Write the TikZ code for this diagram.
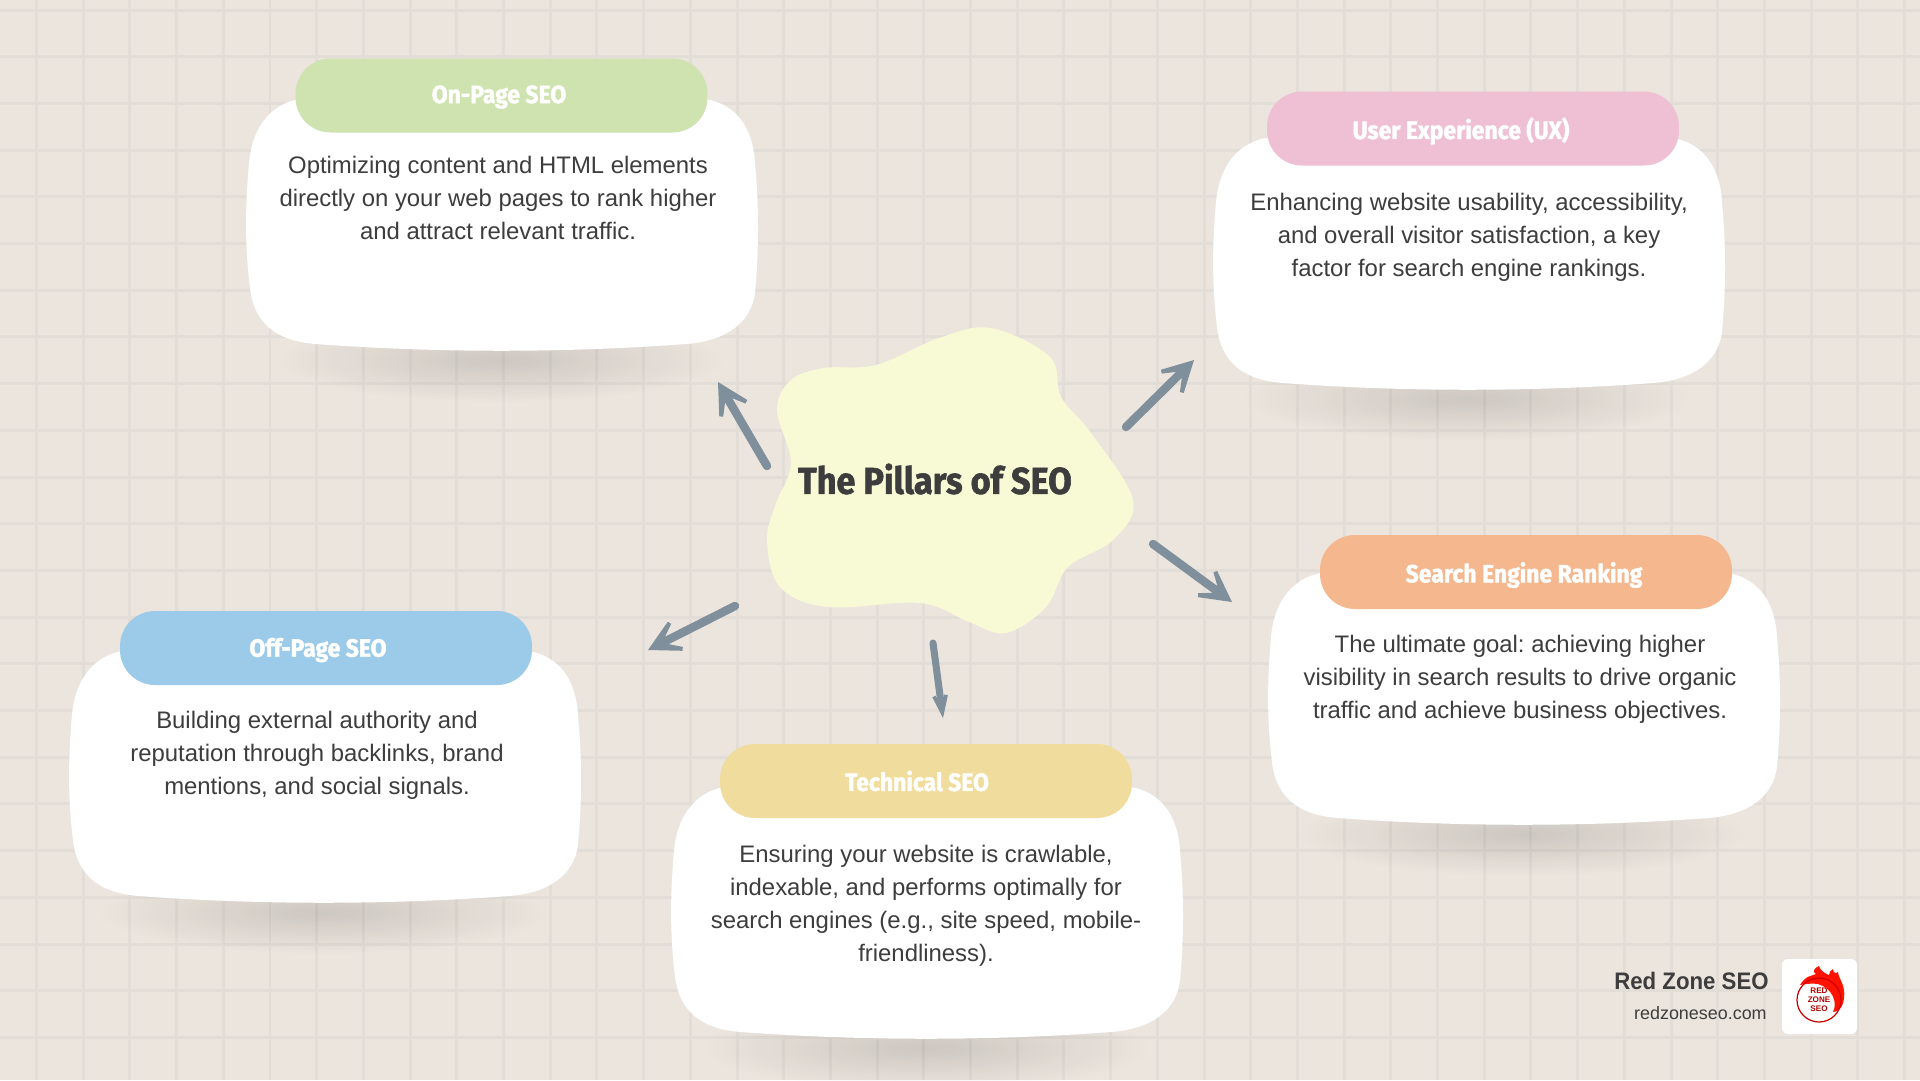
\documentclass[tikz,border=0pt]{standalone}
\usepackage{fontspec}
\setmainfont{Liberation Sans}
\newfontfamily\handfont[FakeStretch=0.92,FakeBold=1.6]{Fira Sans}
\newfontfamily\brandfont[FakeStretch=0.93]{Liberation Sans}
\usetikzlibrary{arrows.meta,fadings}
\definecolor{paper}{HTML}{ECE5DE}
\definecolor{gridline}{HTML}{E3DDD7}
\definecolor{blobfill}{HTML}{F8F9D5}
\definecolor{inktext}{HTML}{3D3D3D}
\definecolor{arrowgrey}{HTML}{7F8F9C}
\definecolor{pillgreen}{HTML}{CFE3B0}
\definecolor{pillpink}{HTML}{EFC0D4}
\definecolor{pillorange}{HTML}{F5B78E}
\definecolor{pillblue}{HTML}{9CCBEA}
\definecolor{pillyellow}{HTML}{F0DC9C}
\tikzfading[name=softfade, inner color=transparent!87, outer color=transparent!100]
\tikzset{
  pill/.style={minimum width=8.24cm, minimum height=1.48cm, rounded corners=0.7cm, inner sep=0pt},
  pilltitle/.style={text=white, font=\handfont\bfseries\fontsize{14.2}{17}\selectfont},
  cardtext/.style={text=inktext, align=center, font=\fontsize{13.6}{18.7}\selectfont},
  pillararrow/.style={color=arrowgrey, line width=4.8pt, line cap=round, -{Stealth[length=29pt,width=31pt,inset=20pt]}},
  cardblob/.pic={
    \fill[black, path fading=softfade] (254,262) ellipse [x radius=225, y radius=42];
    \fill[white] (62,0) .. controls (200,-3) and (320,-3) .. (450,0) .. controls (490,2) and (507,30) .. (509,65)
      .. controls (513,110) and (513,150) .. (509,195) .. controls (505,225) and (480,243) .. (440,246)
      .. controls (320,255) and (190,255) .. (70,246) .. controls (30,243) and (8,225) .. (4,190)
      .. controls (-1,150) and (-1,110) .. (3,65) .. controls (6,30) and (25,2) .. (62,0) -- cycle;
  }
}
\begin{document}
\frenchspacing
\begin{tikzpicture}[x=0.02cm,y=-0.02cm]
    \useasboundingbox (0,0) rectangle (1920,1080);
    \fill[paper] (0,0) rectangle (1920,1080);
    \foreach \n in {0,...,40}
        \draw[gridline, line width=1.7pt] ({36.5+46.7*\n},0) -- ({36.5+46.7*\n},1080);
    \foreach \n in {0,...,23}
        \draw[gridline, line width=1.7pt] (0,{10+46.7*\n}) -- (1920,{10+46.7*\n});
    % cards
    \pic at (246,98) {cardblob};
    \pic at (1213,137) {cardblob};
    \pic at (1268,572) {cardblob};
    \pic at (69,650) {cardblob};
    \pic at (671,786) {cardblob};
    \node[pill, fill=pillgreen] (onpagepill) at (501.5,95.5) {};
    \node[pill, fill=pillpink] (uxpill) at (1473,128.5) {};
    \node[pill, fill=pillorange] (rankingpill) at (1526,572) {};
    \node[pill, fill=pillblue] (offpagepill) at (326,648) {};
    \node[pill, fill=pillyellow] (technicalpill) at (926,781) {};
    \node[pilltitle] (onpagetitle) at (499,97) {On-Page SEO};
    \node[pilltitle] (uxtitle) at (1461,131) {User Experience (UX)};
    \node[pilltitle] (rankingtitle) at (1524,575) {Search Engine Ranking};
    \node[pilltitle] (offpagetitle) at (318,650) {Off-Page SEO};
    \node[pilltitle] (technicaltitle) at (917,781) {Technical SEO};
    \node[cardtext] (onpagetext) at (498,198) {Optimizing content and HTML elements\\directly on your web pages to rank higher\\and attract relevant traffic.};
    \node[cardtext] (uxtext) at (1469,237) {Enhancing website usability, accessibility,\\and overall visitor satisfaction, a key\\factor for search engine rankings.};
    \node[cardtext] (rankingtext) at (1520,679) {The ultimate goal: achieving higher\\visibility in search results to drive organic\\traffic and achieve business objectives.};
    \node[cardtext] (offpagetext) at (317,755) {Building external authority and\\reputation through backlinks, brand\\mentions, and social signals.};
    \node[cardtext] (technicaltext) at (926,906) {Ensuring your website is crawlable,\\indexable, and performs optimally for\\search engines (e.g., site speed, mobile-\\friendliness).};
    % centre blob
    \fill[blobfill] plot[smooth cycle, tension=0.6] coordinates {(991,328) (1050,357) (1061,397) (1091,433) (1133,500) (1113,540) (1068,567) (1046,607) (1006,633) (969,622) (920,603) (828,607) (780,587) (767,540) (776,503) (791,463) (777,410) (791,380) (824,368) (876,365) (939,338)};
    \node[text=inktext, font=\handfont\bfseries\fontsize{21.2}{26}\selectfont] (hub) at (935,479) {The Pillars of SEO};
    % arrows
    \coordinate (hubnw) at (767,466);
    \coordinate (hubne) at (1126,427);
    \coordinate (hubse) at (1153,544);
    \coordinate (hubs) at (933,643);
    \coordinate (hubsw) at (735,606);
    \coordinate (tiponpage) at (718,382);
    \coordinate (tipux) at (1194,360);
    \coordinate (tipranking) at (1232,602);
    \coordinate (tiptechnical) at (943,718);
    \coordinate (tipoffpage) at (648,650);
    \draw[pillararrow] (hubnw) -- (tiponpage);
    \draw[pillararrow] (hubne) -- (tipux);
    \draw[pillararrow] (hubse) -- (tipranking);
    \draw[pillararrow, line width=4pt, -{Stealth[length=28pt,width=20pt,inset=20pt]}] (hubs) -- (tiptechnical);
    \draw[pillararrow] (hubsw) -- (tipoffpage);
    % brand
    \node[anchor=east, inner sep=0pt, text=inktext, font=\brandfont\bfseries\fontsize{13.6}{16}\selectfont] (brandname) at (1769,981) {Red Zone SEO};
    \node[anchor=east, inner sep=0pt, text=inktext, font=\fontsize{10.2}{13}\selectfont] (brandurl) at (1767,1013) {redzoneseo.com};
    \fill[white, rounded corners=0.12cm] (1782,959) rectangle (1857,1034);
    \fill[red!85!orange] (1800,985) .. controls (1806,975) and (1812,976) .. (1816,974) .. controls (1812,972) and (1814,968) .. (1819,966)
      .. controls (1820,970) and (1824,973) .. (1829,975) .. controls (1829,972) and (1831,970) .. (1833,969) .. controls (1833,973) and (1836,974) .. (1838,972)
      .. controls (1838,978) and (1846,985) .. (1844,998) .. controls (1843,1008) and (1838,1012) .. (1833,1012) .. controls (1838,1002) and (1832,988) .. (1818,984) .. controls (1812,983) and (1806,984) .. (1800,985) -- cycle;
    \draw[red!80!black, line width=0.7pt] (1819,1000) circle [radius=22];
    \node[text=red!70!black, align=center, inner sep=0pt, font=\bfseries\fontsize{4.6}{5}\selectfont] (brandlogo) at (1819,1000) {RED\\ZONE\\SEO};
\end{tikzpicture}
\end{document}
